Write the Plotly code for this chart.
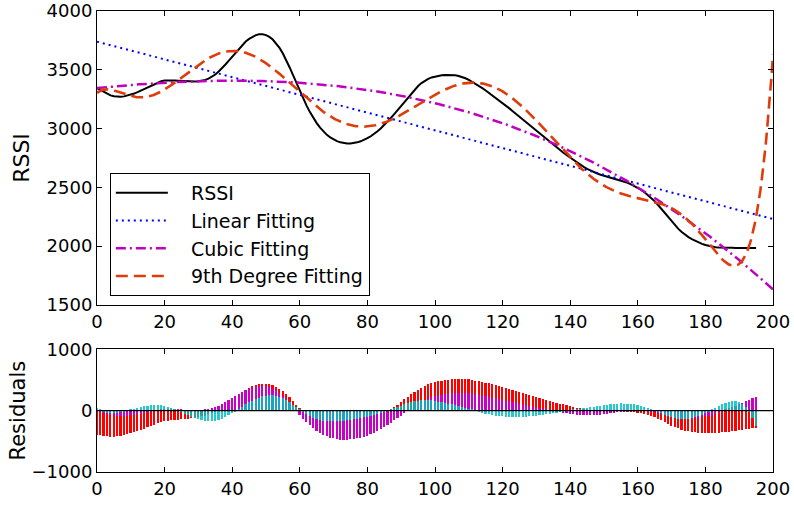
import numpy as np
import plotly.graph_objects as go

# Received signal strength samples, one per index 0..195
sample = np.arange(0, 196)
rssi = np.array([
    3345, 3330, 3310, 3293, 3282, 3275, 3271, 3271, 3274, 3280,   # 0-9
    3288, 3298, 3310, 3323, 3336, 3350, 3364, 3378, 3392, 3402,   # 10-19
    3408, 3410, 3410, 3409, 3407, 3405, 3403, 3401, 3400, 3400,   # 20-29
    3402, 3407, 3414, 3425, 3440, 3460, 3485, 3513, 3545, 3578,   # 30-39
    3612, 3648, 3682, 3713, 3740, 3763, 3782, 3795, 3802, 3802,   # 40-49
    3795, 3780, 3757, 3726, 3686, 3638, 3582, 3520, 3455, 3388,   # 50-59
    3320, 3255, 3195, 3140, 3090, 3047, 3008, 2975, 2947, 2925,   # 60-69
    2907, 2893, 2883, 2877, 2874, 2874, 2877, 2883, 2892, 2904,   # 70-79
    2918, 2935, 2955, 2978, 3003, 3030, 3060, 3092, 3125, 3160,   # 80-89
    3195, 3230, 3265, 3300, 3333, 3362, 3387, 3408, 3423, 3435,   # 90-99
    3443, 3449, 3453, 3456, 3457, 3456, 3453, 3447, 3439, 3428,   # 100-109
    3414, 3398, 3381, 3363, 3344, 3324, 3303, 3282, 3261, 3240,   # 110-119
    3218, 3196, 3172, 3148, 3124, 3100, 3076, 3052, 3028, 3004,   # 120-129
    2980, 2956, 2932, 2908, 2885, 2862, 2839, 2817, 2795, 2773,   # 130-139
    2752, 2731, 2711, 2692, 2674, 2657, 2642, 2629, 2618, 2608,   # 140-149
    2600, 2592, 2585, 2577, 2569, 2560, 2550, 2539, 2526, 2512,   # 150-159
    2496, 2478, 2458, 2435, 2410, 2382, 2350, 2316, 2280, 2244,   # 160-169
    2210, 2177, 2147, 2120, 2097, 2077, 2060, 2045, 2032, 2020,   # 170-179
    2010, 2002, 1996, 1991, 1988, 1986, 1985, 1984, 1986, 1985,   # 180-189
    1984, 1986, 1985, 1984, 1986, 1985,                           # 190-195
], dtype=float)

# Axis ticks
x_ticks = list(range(0, 201, 20))
rssi_ticks = [1500, 2000, 2500, 3000, 3500, 4000]
resid_ticks = [-1000, 0, 1000]

# Polynomial fits of degree 1, 3 and 9
fit_lin = np.polynomial.Polynomial.fit(sample, rssi, 1)
fit_cub = np.polynomial.Polynomial.fit(sample, rssi, 3)
fit_9th = np.polynomial.Polynomial.fit(sample, rssi, 9)

curve_x = np.linspace(0, 200, 801)

res_lin = rssi - fit_lin(sample)
res_cub = rssi - fit_cub(sample)
res_9th = rssi - fit_9th(sample)

FONT = "DejaVu Sans"
PAD = "\u00a0\u00a0\u00a0"  # gap between legend swatch and label

fig = go.Figure()

fig.add_trace(go.Scatter(
    x=sample, y=rssi, mode="lines", name=PAD + "RSSI",
    line=dict(color="black", width=2), xaxis="x", yaxis="y"))
fig.add_trace(go.Scatter(
    x=curve_x, y=fit_lin(curve_x), mode="lines", name=PAD + "Linear Fitting",
    line=dict(color="#0000ff", width=2, dash="2px,4px"), xaxis="x", yaxis="y"))
fig.add_trace(go.Scatter(
    x=curve_x, y=fit_cub(curve_x), mode="lines", name=PAD + "Cubic Fitting",
    line=dict(color="#c000c0", width=2.5, dash="10px,4px,2px,4px"), xaxis="x", yaxis="y"))
fig.add_trace(go.Scatter(
    x=curve_x, y=fit_9th(curve_x), mode="lines", name=PAD + "9th Degree Fitting",
    line=dict(color="#e03c0a", width=2.6, dash="12px,6px"), xaxis="x", yaxis="y"))

# Residual stems
for res, col, op in [(res_lin, "#ff0000", 1.0),
                     (res_cub, "#c800c8", 1.0),
                     (res_9th, "#00c0c0", 0.85)]:
    fig.add_trace(go.Bar(
        x=sample, y=res, width=0.5, marker=dict(color=col, line=dict(width=0)),
        opacity=op, showlegend=False, xaxis="x2", yaxis="y2"))

axis_common = dict(
    showline=True, linecolor="black", linewidth=1, mirror="ticks",
    ticks="inside", ticklen=5, tickcolor="black", showgrid=False,
    zeroline=False, automargin=False,
    tickfont=dict(family=FONT, size=18, color="black"),
)

fig.update_layout(
    template="none",
    width=794, height=507,
    margin=dict(l=97, r=21, t=11, b=35, autoexpand=False),
    paper_bgcolor="white", plot_bgcolor="white",
    barmode="overlay", bargap=0,
    showlegend=True,
    legend=dict(
        x=0.019, y=0.6486, xanchor="left", yanchor="top",
        bgcolor="white", bordercolor="black", borderwidth=1,
        font=dict(family=FONT, size=19, color="black"),
        itemwidth=52, tracegroupgap=5,
    ),
    xaxis=dict(domain=[0, 1], anchor="y", range=[0, 200], tickvals=x_ticks, **axis_common),
    yaxis=dict(domain=[0.3623, 1], anchor="x", range=[1500, 4000], tickvals=rssi_ticks,
               title=dict(text="RSSI", font=dict(family=FONT, size=22, color="black"), standoff=10),
               **axis_common),
    xaxis2=dict(domain=[0, 1], anchor="y2", range=[0, 200], tickvals=x_ticks, **axis_common),
    yaxis2=dict(domain=[0, 0.2662], anchor="x2", range=[-1000, 1000], tickvals=resid_ticks,
                title=dict(text="Residuals", font=dict(family=FONT, size=21, color="black"), standoff=0),
                **axis_common),
    shapes=[dict(type="line", xref="x2", yref="y2", x0=0, x1=200, y0=0, y1=0,
                 line=dict(color="black", width=1.2), layer="above")],
)

fig.write_html("out.html")
